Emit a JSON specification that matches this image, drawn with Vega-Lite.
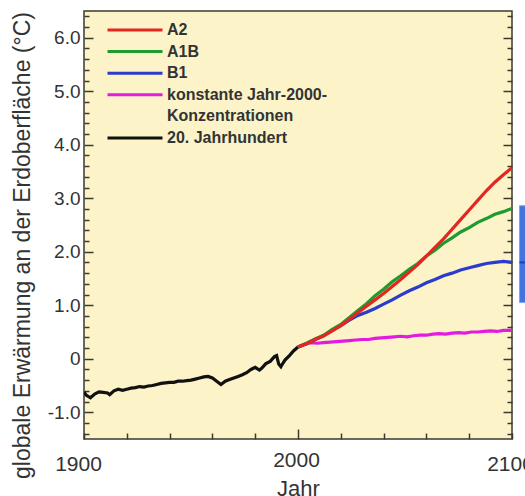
{
  "$schema": "https://vega.github.io/schema/vega-lite/v6.json",
  "width": 428,
  "height": 428,
  "autosize": {"type": "none"},
  "padding": {"left": 84, "top": 11, "right": 13, "bottom": 57},
  "background": "white",
  "config": {
    "view": {"fill": "#FCF3C9", "stroke": "#3a3a30", "strokeWidth": 1.5},
    "font": "Liberation Sans",
    "axis": {"domain": false, "grid": false, "tickColor": "#3a3a30", "tickWidth": 1.5, "labelColor": "#333333", "titleColor": "#333333", "labelFont": "Liberation Sans", "titleFont": "Liberation Sans", "titleFontWeight": "normal"}
  },
  "datasets": {
    "series": [
      {"year": 1900, "temp": -0.62, "scenario": "20. Jahrhundert"},
      {"year": 1901, "temp": -0.68, "scenario": "20. Jahrhundert"},
      {"year": 1903, "temp": -0.73, "scenario": "20. Jahrhundert"},
      {"year": 1905, "temp": -0.66, "scenario": "20. Jahrhundert"},
      {"year": 1907, "temp": -0.62, "scenario": "20. Jahrhundert"},
      {"year": 1909, "temp": -0.63, "scenario": "20. Jahrhundert"},
      {"year": 1911, "temp": -0.64, "scenario": "20. Jahrhundert"},
      {"year": 1912, "temp": -0.67, "scenario": "20. Jahrhundert"},
      {"year": 1914, "temp": -0.6, "scenario": "20. Jahrhundert"},
      {"year": 1916, "temp": -0.57, "scenario": "20. Jahrhundert"},
      {"year": 1918, "temp": -0.59, "scenario": "20. Jahrhundert"},
      {"year": 1920, "temp": -0.57, "scenario": "20. Jahrhundert"},
      {"year": 1922, "temp": -0.55, "scenario": "20. Jahrhundert"},
      {"year": 1924, "temp": -0.54, "scenario": "20. Jahrhundert"},
      {"year": 1926, "temp": -0.52, "scenario": "20. Jahrhundert"},
      {"year": 1928, "temp": -0.53, "scenario": "20. Jahrhundert"},
      {"year": 1930, "temp": -0.51, "scenario": "20. Jahrhundert"},
      {"year": 1932, "temp": -0.5, "scenario": "20. Jahrhundert"},
      {"year": 1934, "temp": -0.48, "scenario": "20. Jahrhundert"},
      {"year": 1936, "temp": -0.46, "scenario": "20. Jahrhundert"},
      {"year": 1938, "temp": -0.45, "scenario": "20. Jahrhundert"},
      {"year": 1940, "temp": -0.44, "scenario": "20. Jahrhundert"},
      {"year": 1942, "temp": -0.44, "scenario": "20. Jahrhundert"},
      {"year": 1944, "temp": -0.42, "scenario": "20. Jahrhundert"},
      {"year": 1946, "temp": -0.42, "scenario": "20. Jahrhundert"},
      {"year": 1948, "temp": -0.41, "scenario": "20. Jahrhundert"},
      {"year": 1950, "temp": -0.4, "scenario": "20. Jahrhundert"},
      {"year": 1952, "temp": -0.38, "scenario": "20. Jahrhundert"},
      {"year": 1954, "temp": -0.36, "scenario": "20. Jahrhundert"},
      {"year": 1956, "temp": -0.34, "scenario": "20. Jahrhundert"},
      {"year": 1958, "temp": -0.33, "scenario": "20. Jahrhundert"},
      {"year": 1960, "temp": -0.36, "scenario": "20. Jahrhundert"},
      {"year": 1962, "temp": -0.42, "scenario": "20. Jahrhundert"},
      {"year": 1964, "temp": -0.48, "scenario": "20. Jahrhundert"},
      {"year": 1966, "temp": -0.42, "scenario": "20. Jahrhundert"},
      {"year": 1968, "temp": -0.39, "scenario": "20. Jahrhundert"},
      {"year": 1970, "temp": -0.36, "scenario": "20. Jahrhundert"},
      {"year": 1972, "temp": -0.33, "scenario": "20. Jahrhundert"},
      {"year": 1974, "temp": -0.3, "scenario": "20. Jahrhundert"},
      {"year": 1976, "temp": -0.26, "scenario": "20. Jahrhundert"},
      {"year": 1978, "temp": -0.2, "scenario": "20. Jahrhundert"},
      {"year": 1980, "temp": -0.16, "scenario": "20. Jahrhundert"},
      {"year": 1982, "temp": -0.21, "scenario": "20. Jahrhundert"},
      {"year": 1983, "temp": -0.18, "scenario": "20. Jahrhundert"},
      {"year": 1985, "temp": -0.09, "scenario": "20. Jahrhundert"},
      {"year": 1987, "temp": -0.05, "scenario": "20. Jahrhundert"},
      {"year": 1989, "temp": 0.04, "scenario": "20. Jahrhundert"},
      {"year": 1990, "temp": 0.06, "scenario": "20. Jahrhundert"},
      {"year": 1991, "temp": -0.1, "scenario": "20. Jahrhundert"},
      {"year": 1992, "temp": -0.15, "scenario": "20. Jahrhundert"},
      {"year": 1993, "temp": -0.08, "scenario": "20. Jahrhundert"},
      {"year": 1994, "temp": -0.02, "scenario": "20. Jahrhundert"},
      {"year": 1996, "temp": 0.06, "scenario": "20. Jahrhundert"},
      {"year": 1998, "temp": 0.15, "scenario": "20. Jahrhundert"},
      {"year": 2000, "temp": 0.22, "scenario": "20. Jahrhundert"},

      {"year": 2000, "temp": 0.22, "scenario": "konstante Jahr-2000-"},
      {"year": 2003, "temp": 0.27, "scenario": "konstante Jahr-2000-"},
      {"year": 2006, "temp": 0.3, "scenario": "konstante Jahr-2000-"},
      {"year": 2009, "temp": 0.29, "scenario": "konstante Jahr-2000-"},
      {"year": 2012, "temp": 0.3, "scenario": "konstante Jahr-2000-"},
      {"year": 2015, "temp": 0.31, "scenario": "konstante Jahr-2000-"},
      {"year": 2018, "temp": 0.32, "scenario": "konstante Jahr-2000-"},
      {"year": 2021, "temp": 0.33, "scenario": "konstante Jahr-2000-"},
      {"year": 2024, "temp": 0.34, "scenario": "konstante Jahr-2000-"},
      {"year": 2027, "temp": 0.35, "scenario": "konstante Jahr-2000-"},
      {"year": 2030, "temp": 0.36, "scenario": "konstante Jahr-2000-"},
      {"year": 2033, "temp": 0.36, "scenario": "konstante Jahr-2000-"},
      {"year": 2036, "temp": 0.38, "scenario": "konstante Jahr-2000-"},
      {"year": 2039, "temp": 0.39, "scenario": "konstante Jahr-2000-"},
      {"year": 2042, "temp": 0.4, "scenario": "konstante Jahr-2000-"},
      {"year": 2045, "temp": 0.41, "scenario": "konstante Jahr-2000-"},
      {"year": 2048, "temp": 0.42, "scenario": "konstante Jahr-2000-"},
      {"year": 2051, "temp": 0.41, "scenario": "konstante Jahr-2000-"},
      {"year": 2054, "temp": 0.43, "scenario": "konstante Jahr-2000-"},
      {"year": 2057, "temp": 0.44, "scenario": "konstante Jahr-2000-"},
      {"year": 2060, "temp": 0.44, "scenario": "konstante Jahr-2000-"},
      {"year": 2063, "temp": 0.46, "scenario": "konstante Jahr-2000-"},
      {"year": 2066, "temp": 0.47, "scenario": "konstante Jahr-2000-"},
      {"year": 2069, "temp": 0.46, "scenario": "konstante Jahr-2000-"},
      {"year": 2072, "temp": 0.48, "scenario": "konstante Jahr-2000-"},
      {"year": 2075, "temp": 0.49, "scenario": "konstante Jahr-2000-"},
      {"year": 2078, "temp": 0.48, "scenario": "konstante Jahr-2000-"},
      {"year": 2081, "temp": 0.5, "scenario": "konstante Jahr-2000-"},
      {"year": 2084, "temp": 0.5, "scenario": "konstante Jahr-2000-"},
      {"year": 2087, "temp": 0.51, "scenario": "konstante Jahr-2000-"},
      {"year": 2090, "temp": 0.52, "scenario": "konstante Jahr-2000-"},
      {"year": 2093, "temp": 0.51, "scenario": "konstante Jahr-2000-"},
      {"year": 2096, "temp": 0.53, "scenario": "konstante Jahr-2000-"},
      {"year": 2100, "temp": 0.53, "scenario": "konstante Jahr-2000-"},

      {"year": 2000, "temp": 0.22, "scenario": "B1"},
      {"year": 2004, "temp": 0.28, "scenario": "B1"},
      {"year": 2008, "temp": 0.36, "scenario": "B1"},
      {"year": 2012, "temp": 0.43, "scenario": "B1"},
      {"year": 2016, "temp": 0.53, "scenario": "B1"},
      {"year": 2020, "temp": 0.62, "scenario": "B1"},
      {"year": 2024, "temp": 0.72, "scenario": "B1"},
      {"year": 2028, "temp": 0.81, "scenario": "B1"},
      {"year": 2032, "temp": 0.87, "scenario": "B1"},
      {"year": 2036, "temp": 0.94, "scenario": "B1"},
      {"year": 2040, "temp": 1.02, "scenario": "B1"},
      {"year": 2044, "temp": 1.1, "scenario": "B1"},
      {"year": 2048, "temp": 1.19, "scenario": "B1"},
      {"year": 2052, "temp": 1.27, "scenario": "B1"},
      {"year": 2056, "temp": 1.34, "scenario": "B1"},
      {"year": 2060, "temp": 1.42, "scenario": "B1"},
      {"year": 2064, "temp": 1.48, "scenario": "B1"},
      {"year": 2068, "temp": 1.55, "scenario": "B1"},
      {"year": 2072, "temp": 1.6, "scenario": "B1"},
      {"year": 2076, "temp": 1.66, "scenario": "B1"},
      {"year": 2080, "temp": 1.7, "scenario": "B1"},
      {"year": 2084, "temp": 1.74, "scenario": "B1"},
      {"year": 2088, "temp": 1.78, "scenario": "B1"},
      {"year": 2092, "temp": 1.8, "scenario": "B1"},
      {"year": 2096, "temp": 1.82, "scenario": "B1"},
      {"year": 2100, "temp": 1.8, "scenario": "B1"},

      {"year": 2000, "temp": 0.22, "scenario": "A1B"},
      {"year": 2004, "temp": 0.29, "scenario": "A1B"},
      {"year": 2008, "temp": 0.37, "scenario": "A1B"},
      {"year": 2012, "temp": 0.44, "scenario": "A1B"},
      {"year": 2016, "temp": 0.55, "scenario": "A1B"},
      {"year": 2020, "temp": 0.64, "scenario": "A1B"},
      {"year": 2024, "temp": 0.77, "scenario": "A1B"},
      {"year": 2028, "temp": 0.9, "scenario": "A1B"},
      {"year": 2032, "temp": 1.03, "scenario": "A1B"},
      {"year": 2036, "temp": 1.18, "scenario": "A1B"},
      {"year": 2040, "temp": 1.3, "scenario": "A1B"},
      {"year": 2044, "temp": 1.44, "scenario": "A1B"},
      {"year": 2048, "temp": 1.55, "scenario": "A1B"},
      {"year": 2052, "temp": 1.67, "scenario": "A1B"},
      {"year": 2056, "temp": 1.78, "scenario": "A1B"},
      {"year": 2060, "temp": 1.92, "scenario": "A1B"},
      {"year": 2064, "temp": 2.03, "scenario": "A1B"},
      {"year": 2068, "temp": 2.16, "scenario": "A1B"},
      {"year": 2072, "temp": 2.26, "scenario": "A1B"},
      {"year": 2076, "temp": 2.37, "scenario": "A1B"},
      {"year": 2080, "temp": 2.45, "scenario": "A1B"},
      {"year": 2084, "temp": 2.55, "scenario": "A1B"},
      {"year": 2088, "temp": 2.62, "scenario": "A1B"},
      {"year": 2092, "temp": 2.7, "scenario": "A1B"},
      {"year": 2096, "temp": 2.75, "scenario": "A1B"},
      {"year": 2100, "temp": 2.81, "scenario": "A1B"},

      {"year": 2000, "temp": 0.22, "scenario": "A2"},
      {"year": 2004, "temp": 0.28, "scenario": "A2"},
      {"year": 2008, "temp": 0.36, "scenario": "A2"},
      {"year": 2012, "temp": 0.43, "scenario": "A2"},
      {"year": 2016, "temp": 0.52, "scenario": "A2"},
      {"year": 2020, "temp": 0.62, "scenario": "A2"},
      {"year": 2024, "temp": 0.74, "scenario": "A2"},
      {"year": 2028, "temp": 0.86, "scenario": "A2"},
      {"year": 2032, "temp": 0.98, "scenario": "A2"},
      {"year": 2036, "temp": 1.1, "scenario": "A2"},
      {"year": 2040, "temp": 1.22, "scenario": "A2"},
      {"year": 2044, "temp": 1.35, "scenario": "A2"},
      {"year": 2048, "temp": 1.48, "scenario": "A2"},
      {"year": 2052, "temp": 1.62, "scenario": "A2"},
      {"year": 2056, "temp": 1.76, "scenario": "A2"},
      {"year": 2060, "temp": 1.92, "scenario": "A2"},
      {"year": 2064, "temp": 2.08, "scenario": "A2"},
      {"year": 2068, "temp": 2.24, "scenario": "A2"},
      {"year": 2072, "temp": 2.42, "scenario": "A2"},
      {"year": 2076, "temp": 2.6, "scenario": "A2"},
      {"year": 2080, "temp": 2.78, "scenario": "A2"},
      {"year": 2084, "temp": 2.96, "scenario": "A2"},
      {"year": 2088, "temp": 3.14, "scenario": "A2"},
      {"year": 2092, "temp": 3.3, "scenario": "A2"},
      {"year": 2096, "temp": 3.44, "scenario": "A2"},
      {"year": 2100, "temp": 3.57, "scenario": "A2"}
    ],
    "bar": [
      {"start": 2103.5, "end": 2115, "low": 1.05, "high": 2.86, "best": 1.8}
    ]
  },
  "layer": [
    {
      "data": {"name": "series"},
      "mark": {"type": "line", "strokeWidth": 3.2, "clip": true},
      "encoding": {
        "x": {
          "field": "year", "type": "quantitative",
          "scale": {"domain": [1900, 2100], "nice": false, "zero": false},
          "axis": {
            "values": [1900, 1920, 1940, 1960, 1980, 2000, 2020, 2040, 2060, 2080, 2100],
            "format": "d",
            "labelExpr": "datum.value % 100 == 0 ? datum.label : ''",
            "labelFlush": false,
            "labelOffset": {"condition": {"test": "datum.value == 1900", "value": -6}, "value": -2},
            "tickSize": {"condition": {"test": "datum.value == 2000", "value": -10}, "value": -6},
            "labelPadding": 20,
            "labelFontSize": 21,
            "title": "Jahr",
            "titleFontSize": 22,
            "titlePadding": 4
          }
        },
        "y": {
          "field": "temp", "type": "quantitative",
          "scale": {"domain": [-1.5, 6.5], "nice": false, "zero": false},
          "axis": {
            "values": [-1.4, -1.2, -1, -0.8, -0.6, -0.4, -0.2, 0, 0.2, 0.4, 0.6, 0.8, 1, 1.2, 1.4, 1.6, 1.8, 2, 2.2, 2.4, 2.6, 2.8, 3, 3.2, 3.4, 3.6, 3.8, 4, 4.2, 4.4, 4.6, 4.8, 5, 5.2, 5.4, 5.6, 5.8, 6, 6.2, 6.4],
            "labelExpr": "abs(datum.value - round(datum.value)) < 0.001 ? (datum.value == 0 ? '0' : (datum.value < 0 ? '-' : '') + format(abs(datum.value), '.1f')) : ''",
            "tickSize": {"condition": {"test": "abs(datum.value - round(datum.value)) < 0.001", "value": -9}, "value": -5},
            "labelPadding": 13,
            "labelFontSize": 19,
            "title": "globale Erwärmung an der Erdoberfläche (°C)",
            "titleFontSize": 23,
            "titleX": -62,
            "titleY": 234,
            "titleBaseline": "middle",
            "titleAlign": "center",
            "titleAngle": -90
          }
        },
        "color": {
          "field": "scenario", "type": "nominal",
          "scale": {
            "domain": ["A2", "A1B", "B1", "konstante Jahr-2000-", "Konzentrationen", "20. Jahrhundert"],
            "range": ["#E3261F", "#1E9B2E", "#2B3BCB", "#E21BE0", "transparent", "#111111"]
          },
          "legend": {
            "title": null,
            "orient": "none",
            "legendX": 22,
            "legendY": 10,
            "symbolType": "stroke",
            "symbolSize": 3025,
            "symbolStrokeWidth": 3,
            "labelFontSize": 16,
            "labelFontWeight": "bold",
            "labelColor": "#333333",
            "labelOffset": 3,
            "labelLimit": 400,
            "clipHeight": 18,
            "rowPadding": 3.6,
            "padding": 0
          }
        }
      }
    },
    {
      "data": {"name": "bar"},
      "mark": {"type": "rect", "fill": "#4472E0", "stroke": "#7FA0EE", "strokeWidth": 1},
      "encoding": {
        "x": {"field": "start", "type": "quantitative"},
        "x2": {"field": "end"},
        "y": {"field": "low", "type": "quantitative", "axis": {
          "orient": "right",
          "values": [-1.4, -1.2, -1, -0.8, -0.6, -0.4, -0.2, 0, 0.2, 0.4, 0.6, 0.8, 1, 1.2, 1.4, 1.6, 1.8, 2, 2.2, 2.4, 2.6, 2.8, 3, 3.2, 3.4, 3.6, 3.8, 4, 4.2, 4.4, 4.6, 4.8, 5, 5.2, 5.4, 5.6, 5.8, 6, 6.2, 6.4],
          "labels": false,
          "tickSize": {"condition": {"test": "abs(datum.value - round(datum.value)) < 0.001", "value": -9}, "value": -5},
          "title": null
        }},
        "y2": {"field": "high"}
      }
    },
    {
      "data": {"name": "bar"},
      "mark": {"type": "rule", "color": "#1B3FBF", "strokeWidth": 2},
      "encoding": {
        "x": {"field": "start", "type": "quantitative"},
        "x2": {"field": "end"},
        "y": {"field": "best", "type": "quantitative", "axis": null}
      }
    }
  ],
  "resolve": {"axis": {"y": "independent"}}
}
